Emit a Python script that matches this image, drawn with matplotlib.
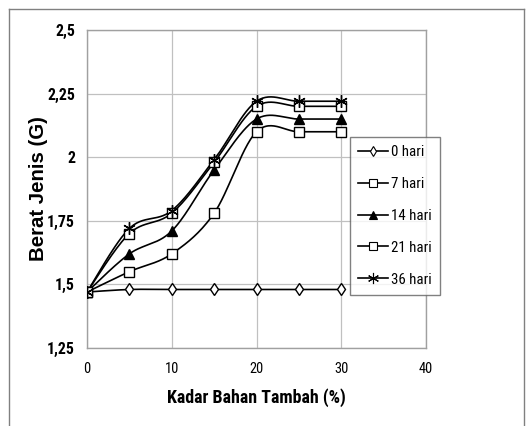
import os
import numpy as np
import matplotlib
matplotlib.use("Agg")
import matplotlib.pyplot as plt
from matplotlib.lines import Line2D
from matplotlib import font_manager
from matplotlib.font_manager import FontProperties

x_vals = [0, 5, 10, 15, 20, 25, 30]
series_names = ["0 hari", "7 hari", "14 hari", "21 hari", "36 hari"]
hari_0 = [1.47, 1.48, 1.48, 1.48, 1.48, 1.48, 1.48]
hari_7 = [1.47, 1.55, 1.62, 1.78, 2.10, 2.10, 2.10]
hari_14 = [1.47, 1.62, 1.71, 1.95, 2.15, 2.15, 2.15]
hari_21 = [1.47, 1.70, 1.78, 1.98, 2.20, 2.20, 2.20]
hari_36 = [1.47, 1.72, 1.79, 1.99, 2.22, 2.22, 2.22]
y_ticks = [1.25, 1.5, 1.75, 2.0, 2.25, 2.5]
y_tick_labels = ["1,25", "1,5", "1,75", "2", "2,25", "2,5"]
x_ticks = [0, 10, 20, 30, 40]
x_label = "Kadar Bahan Tambah (%)"
y_label = "Berat Jenis (G)"

# ---- fonts: condensed face (the reference text is horizontally squeezed)
paths = {os.path.basename(f.fname): f.fname for f in font_manager.fontManager.ttflist}
pairs = [("RobotoCondensed-Regular.ttf", "RobotoCondensed-Bold.ttf"),
         ("FiraSansCondensed-Regular.ttf", "FiraSansCondensed-Bold.ttf"),
         ("DejaVuSansCondensed.ttf", "DejaVuSansCondensed-Bold.ttf")]
reg_file = bold_file = None
for r, b in pairs:
    if r in paths and b in paths:
        reg_file, bold_file = paths[r], paths[b]
        break

def fp(bold, size):
    f = bold_file if bold else reg_file
    if f:
        return FontProperties(fname=f, size=size)
    return FontProperties(family="Liberation Sans", weight="bold" if bold else "normal", size=size)

def fp_arial_bold(size):
    return FontProperties(family="Liberation Sans", weight="bold", size=size)

def smooth(xs, ys, n=30):
    p = np.column_stack([xs, ys]).astype(float)
    pts = [p[0]]
    m = len(p)
    for i in range(m - 1):
        p0 = p[i - 1] if i > 0 else p[i]
        p1 = p[i]
        p2 = p[i + 1]
        p3 = p[i + 2] if i + 2 < m else p[i + 1]
        c1 = p1 + (p2 - p0) / 6.0
        c2 = p2 - (p3 - p1) / 6.0
        t = np.linspace(0, 1, n)[1:, None]
        seg = ((1 - t) ** 3) * p1 + 3 * ((1 - t) ** 2) * t * c1 + 3 * (1 - t) * t ** 2 * c2 + t ** 3 * p2
        pts.extend(seg)
    pts = np.array(pts)
    return pts[:, 0], pts[:, 1]

W, H = 531, 426
fig = plt.figure(figsize=(W / 100, H / 100), dpi=100)
renderer = fig.canvas.get_renderer()

def fit_size(text, propfn, target_w, base=10.0):
    t = fig.text(0, 0, text, fontproperties=propfn(base))
    w = t.get_window_extent(renderer).width
    t.remove()
    return base * target_w / w

lab_sz = fit_size(x_label, lambda s: fp(True, s), 178)
ylab_sz = fit_size(y_label, fp_arial_bold, 145)
xtick_sz = fit_size("40", lambda s: fp(False, s), 14)
ytick_sz = xtick_sz * 1.1
leg_sz = fit_size("36 hari", lambda s: fp(False, s), 40)

ax = fig.add_axes([87 / W, 1 - 348 / H, (426 - 87) / W, (348 - 30) / H])

# figure border
for xs, ys in [([9, 9], [H, 9]), ([9, 524], [9, 9]), ([524, 524], [9, H])]:
    fig.add_artist(Line2D([v / W for v in xs], [1 - v / H for v in ys], color="#808080",
                          lw=1.0, transform=fig.transFigure))

series = [hari_0, hari_7, hari_14, hari_21, hari_36]
markers = ["d", "s", "^", "s", (6, 2, 0)]
mfcs = ["white", "white", "black", "white", "black"]
msizes = [6, 7, 7, 7, 9]
handles = []
for name, ys, mk, fc, ms in zip(series_names, series, markers, mfcs, msizes):
    sx, sy = smooth(x_vals, ys)
    ax.plot(sx, sy, color="black", lw=1.2, zorder=3)
    ax.plot(x_vals, ys, linestyle="none", marker=mk, markerfacecolor=fc,
            markeredgecolor="black", markersize=ms, markeredgewidth=1.0, zorder=4)
    handles.append(Line2D([0], [0], color="black", lw=1.2, marker=mk, markerfacecolor=fc,
                          markeredgecolor="black", markersize=ms - 1, markeredgewidth=0.8))

ax.set_xlim(0, 40)
ax.set_ylim(1.25, 2.5)
ax.set_xticks(x_ticks)
ax.set_yticks(y_ticks)
ax.set_yticklabels(y_tick_labels)
ax.grid(True, color="#c0c0c0", lw=0.9)
ax.set_axisbelow(True)
for s in ax.spines.values():
    s.set_color("#a0a0a0")
    s.set_linewidth(1.0)
ax.tick_params(axis="x", length=0, pad=10)
ax.tick_params(axis="y", length=0, pad=8.6)
for lab in ax.get_xticklabels():
    lab.set_fontproperties(fp(False, xtick_sz))
for lab in ax.get_yticklabels():
    lab.set_fontproperties(fp(True, ytick_sz))

ax.set_xlabel(x_label, fontproperties=fp(True, lab_sz))
ax.xaxis.label.set_va("center")
ax.xaxis.set_label_coords(0.5, (348 - 398) / (348 - 30))
ax.set_ylabel(y_label, fontproperties=fp_arial_bold(ylab_sz))
ax.yaxis.label.set_va("center")
ax.yaxis.set_label_coords((39 - 87) / (426 - 87), 0.5)

leg = fig.legend(handles, series_names, loc="upper left",
                 bbox_to_anchor=(350 / W, 1 - 137 / H), bbox_transform=fig.transFigure,
                 prop=fp(False, leg_sz), frameon=True, fancybox=False,
                 handlelength=2.0, handletextpad=0.2, labelspacing=1.2,
                 borderpad=0.55, borderaxespad=0)
leg.get_frame().set_edgecolor("#606060")
leg.get_frame().set_linewidth(1.0)

fig.savefig("out.png", dpi=100)
